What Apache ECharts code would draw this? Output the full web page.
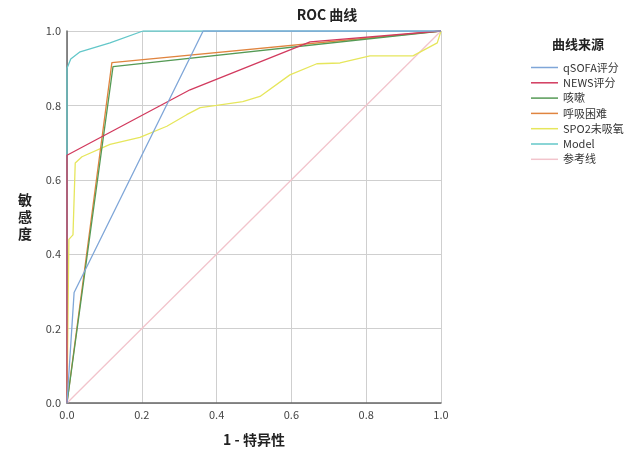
<!DOCTYPE html>
<html><head><meta charset="utf-8">
<script src="https://cdn.jsdelivr.net/npm/echarts@6/dist/echarts.min.js"></script>
<style>html,body{margin:0;padding:0;background:#fff}#c{width:643px;height:452px}</style>
</head><body><div id="c"></div>
<script>
var seriesNames = ['qSOFA评分','NEWS评分','咳嗽','呼吸困难','SPO2未吸氧','Model','参考线'];
var colors = ['#7fa6d8','#d23a5e','#559a55','#e0843f','#e6e65c','#63c7c9','#f2c4cc'];
var qsofa = [[0,0],[0.019,0.297],[0.364,1.0],[1,1]];
var news = [[0,0],[0,0.666],[0.329,0.842],[0.65,0.971],[1,1]];
var cough = [[0,0],[0.123,0.904],[1,1]];
var dyspnea = [[0,0],[0.12,0.915],[1,1]];
var spo2 = [[0,0],[0.005,0.44],[0.016,0.452],[0.022,0.645],[0.04,0.662],[0.115,0.695],[0.195,0.714],[0.267,0.744],[0.32,0.775],[0.356,0.794],[0.4,0.80],[0.47,0.81],[0.516,0.824],[0.596,0.882],[0.668,0.912],[0.73,0.914],[0.81,0.933],[0.925,0.933],[0.99,0.968],[1,1]];
var model = [[0,0],[0,0.90],[0.01,0.925],[0.035,0.944],[0.115,0.968],[0.203,1.0],[1,1]];
var reference = [[0,0],[1,1]];
var allData = [qsofa, news, cough, dyspnea, spo2, model, reference];
var ticks = ['0.0','0.2','0.4','0.6','0.8','1.0'];

var chart = echarts.init(document.getElementById('c'));
var font = '"Noto Sans CJK SC", "Noto Sans", sans-serif';
chart.setOption({
  animation: false,
  textStyle: {fontFamily: font},
  title: [
    {text: 'ROC 曲线', left: 322, top: 3, textAlign: 'center',
     textStyle: {fontSize: 14, fontWeight: 'bold', color: '#222', fontFamily: font}},
    {text: '曲线来源', left: 573, top: 33, textAlign: 'center',
     textStyle: {fontSize: 13, fontWeight: 'bold', color: '#222', fontFamily: font}}
  ],
  legend: {
    orient: 'vertical', left: 531, top: 60, padding: 0,
    itemWidth: 27, itemHeight: 1.5, itemGap: 0.3,
    icon: 'rect',
    textStyle: {fontSize: 11, color: '#333', lineHeight: 15, fontFamily: font},
    data: seriesNames
  },
  grid: {left: 67, top: 31, right: 202, bottom: 47},
  xAxis: {
    type: 'value', min: 0, max: 1, interval: 0.2,
    name: '1 - 特异性', nameLocation: 'middle', nameGap: 30,
    nameTextStyle: {fontSize: 14, fontWeight: 'bold', color: '#222', fontFamily: font},
    axisLine: {show: true, lineStyle: {color: '#666', width: 1.5}},
    axisTick: {show: false},
    axisLabel: {fontSize: 11, color: '#444', margin: 6, formatter: function(v){return ticks[Math.round(v*5)];}},
    splitLine: {show: true, lineStyle: {color: '#cfcfcf', width: 1}}
  },
  yAxis: {
    type: 'value', min: 0, max: 1, interval: 0.2,
    name: '敏\n感\n度', nameLocation: 'middle', nameGap: 35, nameRotate: 0,
    nameTextStyle: {fontSize: 14, fontWeight: 'bold', color: '#222', lineHeight: 17, padding: [0,0,6,0], fontFamily: font},
    axisLine: {show: true, lineStyle: {color: '#666', width: 1.5}},
    axisTick: {show: false},
    axisLabel: {fontSize: 11, color: '#444', margin: 6, formatter: function(v){return ticks[Math.round(v*5)];}},
    splitLine: {show: true, lineStyle: {color: '#cfcfcf', width: 1}}
  },
  series: seriesNames.map(function(n, i){
    return {
      name: n, type: 'line', data: allData[i], showSymbol: false, symbol: 'none',
      z: i === 6 ? 1 : 2 + (6 - i),
      lineStyle: {color: colors[i], width: 1.3},
      itemStyle: {color: colors[i]}
    };
  })
});
</script></body></html>
